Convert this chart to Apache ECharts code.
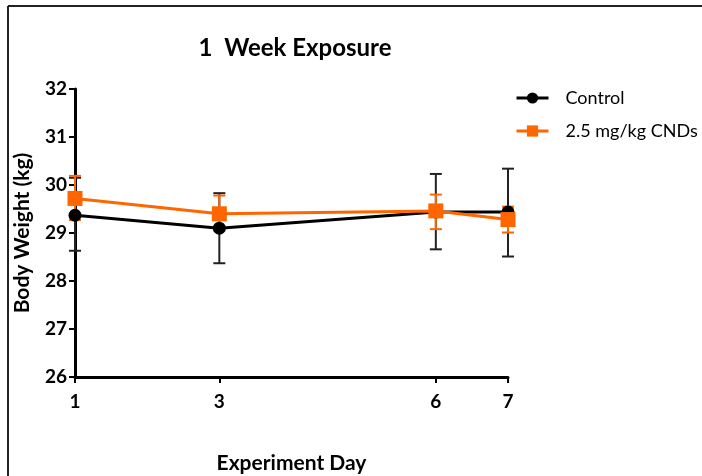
<!DOCTYPE html>
<html>
<head>
<meta charset="utf-8">
<script src="https://cdn.jsdelivr.net/npm/echarts@6/dist/echarts.min.js"></script>
<style>
  html, body { margin: 0; padding: 0; background: #fff; }
  #chart { width: 702px; height: 476px; }
</style>
</head>
<body>
<div id="chart"></div>
<script>
// experiment days and tick labels
var days = [1, 3, 6, 7];
var yTicks = [26, 27, 28, 29, 30, 31, 32];

// Control: mean, lower, upper
var controlMean = [29.37, 29.10, 29.44, 29.44];
var controlLow  = [28.63, 28.37, 28.66, 28.51];
var controlHigh = [30.15, 29.83, 30.23, 30.34];

// 2.5 mg/kg CNDs: mean, lower, upper
var cndMean = [29.72, 29.40, 29.46, 29.28];
var cndLow  = [29.27, 29.05, 29.08, 29.01];
var cndHigh = [30.19, 29.78, 29.80, 29.55];

var font = 'Lato, "Open Sans", sans-serif';

function pairs(xs, ys) {
  return xs.map(function (x, i) { return [x, ys[i]]; });
}
function bars(xs, lo, hi) {
  return xs.map(function (x, i) { return [x, lo[i], hi[i]]; });
}
function errRender(color) {
  return function (params, api) {
    var x = api.value(0);
    var p1 = api.coord([x, api.value(1)]);
    var p2 = api.coord([x, api.value(2)]);
    var w = 6;
    var st = { stroke: color, lineWidth: 2 };
    return {
      type: 'group',
      children: [
        { type: 'line', shape: { x1: p1[0], y1: p1[1], x2: p2[0], y2: p2[1] }, style: st },
        { type: 'line', shape: { x1: p1[0] - w, y1: p1[1], x2: p1[0] + w, y2: p1[1] }, style: st },
        { type: 'line', shape: { x1: p2[0] - w, y1: p2[1], x2: p2[0] + w, y2: p2[1] }, style: st }
      ]
    };
  };
}

var chart = echarts.init(document.getElementById('chart'));
var option = {
  animation: false,
  backgroundColor: '#fff',
  title: {
    text: '1  Week Exposure',
    left: 290,
    top: 31,
    textAlign: 'center',
    textStyle: { fontFamily: font, fontSize: 24, fontWeight: 'bold', color: '#000' }
  },
  legend: {
    orient: 'vertical',
    left: 510,
    top: 84,
    itemWidth: 32,
    itemHeight: 14,
    itemGap: 15,
    data: ['Control', '2.5 mg/kg CNDs'],
    itemStyle: {},
    lineStyle: { width: 3 },
    textStyle: { fontFamily: font, fontSize: 18, color: '#000', padding: [0, 0, 0, 12] }
  },
  grid: { left: 75, right: 194, top: 89, bottom: 99, outerBoundsMode: 'none', containLabel: false },
  xAxis: {
    type: 'value',
    min: 1,
    max: 7,
    name: 'Experiment Day',
    nameLocation: 'middle',
    nameGap: 76,
    nameTextStyle: { fontFamily: font, fontSize: 21, fontWeight: 'bold', color: '#000' },
    splitLine: { show: false },
    axisLine: { lineStyle: { color: '#000', width: 3 } },
    axisTick: { customValues: days, length: 6, lineStyle: { color: '#000', width: 2 } },
    axisLabel: { customValues: days, margin: 15, fontFamily: font, fontSize: 19, fontWeight: 'bold', color: '#000' }
  },
  yAxis: {
    type: 'value',
    min: 26,
    max: 32,
    interval: 1,
    name: 'Body Weight (kg)',
    nameLocation: 'middle',
    nameGap: 42,
    nameTextStyle: { fontFamily: font, fontSize: 21, fontWeight: 'bold', color: '#000' },
    splitLine: { show: false },
    axisLine: { show: true, lineStyle: { color: '#000', width: 3 } },
    axisTick: { show: true, length: 6, lineStyle: { color: '#000', width: 2 } },
    axisLabel: { margin: 8, fontFamily: font, fontSize: 19, fontWeight: 'bold', color: '#000' }
  },
  graphic: [
    { type: 'line', shape: { x1: 8, y1: 6, x2: 702, y2: 6 }, style: { stroke: '#222', lineWidth: 2 } },
    { type: 'line', shape: { x1: 8, y1: 6, x2: 8, y2: 476 }, style: { stroke: '#222', lineWidth: 2 } }
  ],
  series: [
    {
      type: 'custom',
      name: 'ctrlErr',
      renderItem: errRender('#222'),
      data: bars(days, controlLow, controlHigh),
      z: 1
    },
    {
      type: 'custom',
      name: 'cndErr',
      renderItem: errRender('#ff6600'),
      data: bars(days, cndLow, cndHigh),
      z: 1
    },
    {
      name: 'Control',
      type: 'line',
      data: pairs(days, controlMean),
      symbol: 'circle',
      symbolSize: 13,
      itemStyle: { color: '#000' },
      lineStyle: { color: '#000', width: 3 },
      z: 3
    },
    {
      name: '2.5 mg/kg CNDs',
      type: 'line',
      data: pairs(days, cndMean),
      symbol: 'rect',
      symbolSize: 15,
      itemStyle: { color: '#ff6600' },
      lineStyle: { color: '#ff6600', width: 3 },
      z: 4
    }
  ]
};
chart.setOption(option);
</script>
</body>
</html>
